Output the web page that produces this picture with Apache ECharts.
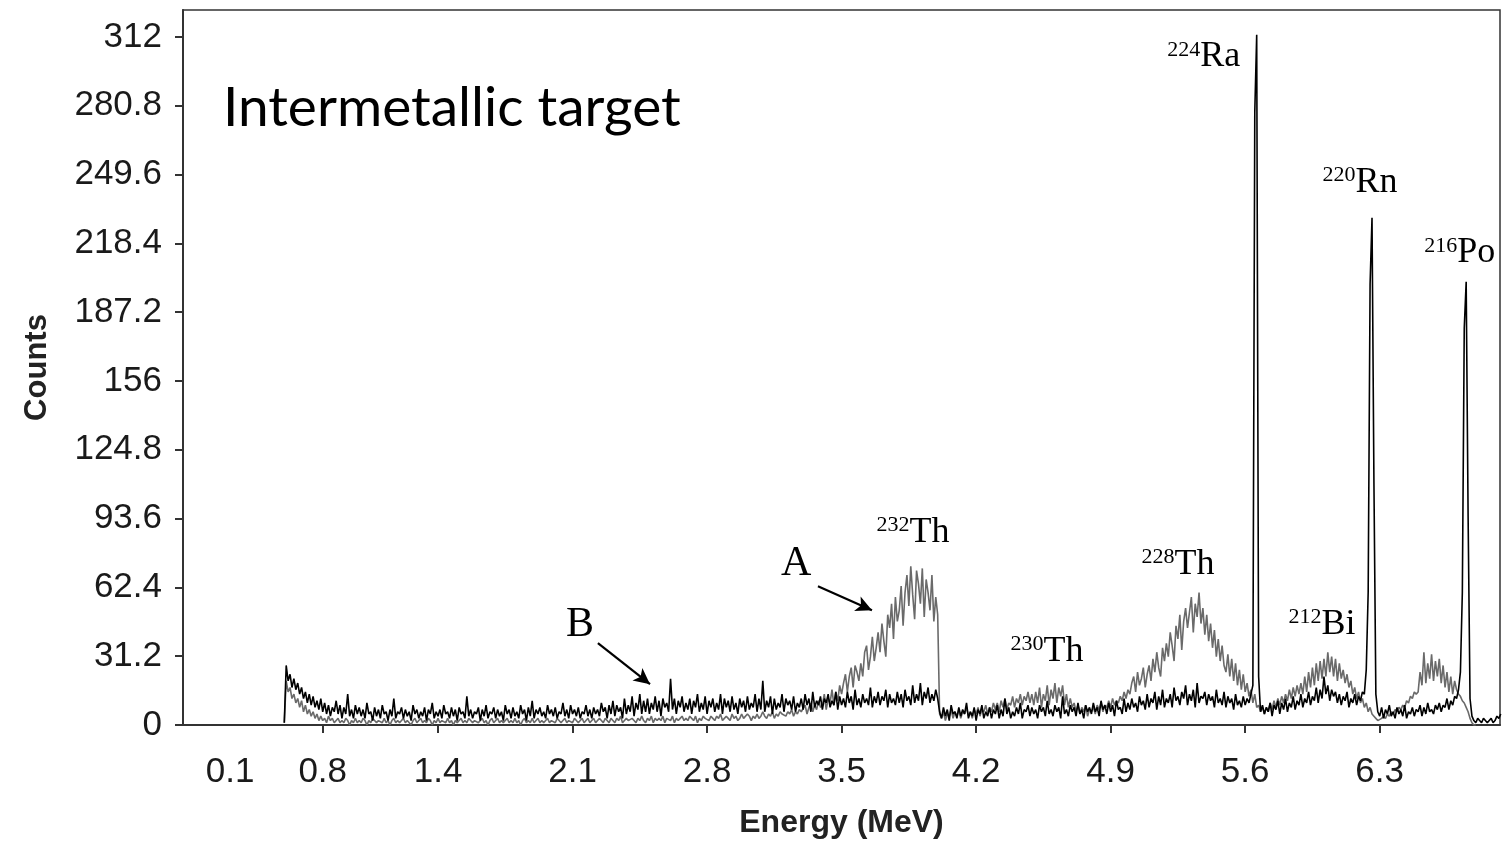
<!DOCTYPE html>
<html>
<head>
<meta charset="utf-8">
<script src="https://cdn.jsdelivr.net/npm/echarts@6/dist/echarts.min.js"></script>
<style>
  html, body { margin: 0; padding: 0; background: #fff; }
  #chart { width: 1511px; height: 844px; }
</style>
</head>
<body>
<div id="chart"></div>
<script>
// Alpha spectrum, intermetallic target: counts per 0.01 MeV channel
const ENERGY_START = 0.60;   // MeV of the first channel
const ENERGY_STEP = 0.01;    // MeV per channel

// Black trace
const countsBlack = [
  1, 27, 20, 23, 17, 21, 16, 19, 14, 17,        // 0.60
  12, 15, 10, 14, 9, 13, 8, 11, 7, 12,          // 0.70
  6, 10, 5, 9, 4, 8, 6, 11, 5, 9,               // 0.80
  3, 8, 5, 14, 4, 7, 3, 9, 5, 8,                // 0.90
  4, 7, 3, 10, 5, 6, 2, 8, 4, 7,                // 1.00
  3, 9, 5, 6, 2, 7, 4, 12, 3, 6,                // 1.10
  5, 8, 3, 7, 4, 6, 2, 9, 5, 7,                 // 1.20
  3, 6, 4, 8, 2, 7, 5, 10, 3, 6,                // 1.30
  4, 7, 3, 9, 5, 6, 3, 8, 4, 7,                 // 1.40
  2, 8, 5, 6, 3, 13, 4, 7, 3, 6,                // 1.50
  5, 8, 2, 7, 4, 9, 3, 6, 5, 8,                 // 1.60
  3, 7, 4, 6, 2, 9, 5, 7, 3, 8,                 // 1.70
  4, 6, 3, 9, 5, 7, 2, 8, 4, 11,                // 1.80
  3, 7, 5, 8, 4, 6, 3, 9, 5, 7,                 // 1.90
  4, 8, 3, 6, 5, 10, 4, 7, 3, 9,                // 2.00
  5, 7, 4, 8, 3, 6, 5, 9, 4, 7,                 // 2.10
  3, 8, 5, 7, 4, 10, 6, 8, 3, 9,                // 2.20
  5, 11, 4, 9, 6, 8, 3, 12, 5, 9,               // 2.30
  6, 13, 4, 10, 7, 14, 5, 11, 6, 12,            // 2.40
  5, 10, 7, 13, 6, 11, 4, 12, 8, 10,            // 2.50
  6, 21, 7, 12, 5, 11, 8, 13, 6, 10,            // 2.60
  7, 12, 5, 11, 8, 14, 6, 10, 7, 13,            // 2.70
  5, 11, 8, 12, 6, 10, 7, 14, 5, 12,            // 2.80
  8, 11, 6, 13, 7, 10, 5, 12, 8, 11,            // 2.90
  6, 13, 7, 10, 8, 14, 6, 12, 7, 20,            // 3.00
  6, 11, 8, 13, 5, 12, 7, 10, 8, 14,            // 3.10
  6, 12, 9, 11, 7, 13, 6, 10, 8, 12,            // 3.20
  7, 14, 9, 12, 6, 15, 8, 11, 9, 13,            // 3.30
  7, 12, 10, 14, 8, 11, 9, 15, 7, 13,           // 3.40
  9, 12, 8, 15, 10, 13, 7, 16, 9, 12,           // 3.50
  8, 14, 10, 12, 9, 17, 8, 13, 10, 15,          // 3.60
  9, 13, 11, 16, 8, 14, 10, 12, 9, 15,          // 3.70
  10, 14, 8, 16, 11, 13, 9, 18, 10, 14,         // 3.80
  11, 19, 9, 15, 12, 17, 10, 14, 11, 16,        // 3.90
  12, 6, 3, 8, 4, 7, 2, 9, 5, 6,                // 4.00
  3, 8, 4, 7, 5, 10, 3, 6, 4, 8,                // 4.10
  2, 7, 5, 9, 3, 6, 4, 8, 3, 7,                 // 4.20
  5, 9, 3, 7, 4, 12, 5, 8, 3, 6,                // 4.30
  4, 8, 5, 10, 3, 7, 6, 9, 4, 8,                // 4.40
  5, 7, 3, 9, 6, 8, 4, 11, 5, 7,                // 4.50
  4, 9, 6, 8, 3, 13, 5, 7, 4, 9,                // 4.60
  6, 8, 4, 10, 5, 7, 3, 9, 6, 8,                // 4.70
  5, 10, 6, 8, 4, 11, 7, 9, 5, 10,              // 4.80
  6, 9, 4, 11, 7, 8, 5, 12, 6, 10,              // 4.90
  7, 12, 8, 10, 6, 13, 9, 11, 7, 14,            // 5.00
  8, 12, 10, 15, 7, 13, 9, 16, 8, 12,           // 5.10
  10, 14, 8, 17, 11, 13, 9, 15, 12, 18,         // 5.20
  9, 14, 11, 16, 8, 19, 10, 13, 12, 15,         // 5.30
  9, 14, 11, 13, 8, 16, 10, 12, 9, 15,          // 5.40
  8, 13, 10, 12, 7, 14, 9, 11, 8, 13,           // 5.50
  9, 12, 10, 14, 18, 278, 313, 22, 6, 9,        // 5.60  224Ra
  5, 8, 6, 10, 4, 9, 7, 11, 5, 10,              // 5.70
  7, 12, 6, 10, 8, 13, 7, 11, 9, 14,            // 5.80
  8, 12, 10, 15, 9, 13, 11, 17, 10, 16,         // 5.90
  12, 22, 14, 18, 11, 16, 13, 15, 10, 14,       // 6.00
  9, 13, 11, 15, 8, 12, 10, 14, 9, 13,          // 6.10
  11, 15, 14, 25, 60, 200, 230, 110, 14, 6,     // 6.20  220Rn
  4, 8, 3, 7, 5, 9, 4, 6, 3, 8,                 // 6.30
  5, 7, 4, 9, 3, 6, 5, 8, 4, 7,                 // 6.40
  6, 9, 4, 8, 5, 10, 6, 7, 5, 9,                // 6.50
  7, 10, 6, 9, 8, 12, 7, 11, 9, 13,             // 6.60
  12, 16, 24, 60, 180, 201, 95, 12, 4, 2,       // 6.70  216Po
  1, 3, 2, 1, 3, 2, 1, 2, 3, 1,                 // 6.80
  2, 4, 3, 5                                    // 6.90
];

// Grey trace
const countsGrey = [
  1, 20, 15, 17, 12, 14, 10, 12, 8, 11,         // 0.60
  6, 9, 5, 7, 4, 6, 3, 5, 2, 4,                 // 0.70
  2, 3, 1, 4, 2, 3, 1, 2, 3, 1,                 // 0.80
  2, 1, 3, 2, 0, 2, 1, 3, 1, 2,                 // 0.90
  1, 3, 2, 0, 2, 1, 3, 2, 1, 2,                 // 1.00
  2, 1, 3, 1, 2, 0, 2, 3, 1, 2,                 // 1.10
  1, 2, 3, 1, 2, 1, 0, 2, 3, 1,                 // 1.20
  2, 3, 1, 2, 1, 3, 2, 0, 2, 1,                 // 1.30
  3, 1, 2, 2, 1, 3, 1, 2, 0, 2,                 // 1.40
  1, 2, 3, 1, 2, 1, 3, 2, 1, 2,                 // 1.50
  2, 1, 2, 3, 1, 2, 0, 2, 3, 1,                 // 1.60
  2, 3, 1, 2, 1, 2, 3, 1, 2, 1,                 // 1.70
  3, 1, 2, 0, 2, 3, 1, 2, 1, 3,                 // 1.80
  1, 2, 3, 1, 2, 1, 2, 3, 1, 2,                 // 1.90
  2, 1, 3, 2, 1, 2, 3, 1, 2, 2,                 // 2.00
  1, 3, 2, 1, 2, 3, 1, 2, 3, 1,                 // 2.10
  2, 3, 1, 2, 3, 2, 1, 3, 2, 1,                 // 2.20
  3, 2, 1, 3, 2, 4, 1, 2, 3, 2,                 // 2.30
  2, 3, 2, 1, 3, 2, 4, 2, 1, 3,                 // 2.40
  2, 4, 1, 3, 2, 3, 2, 4, 1, 3,                 // 2.50
  3, 2, 4, 1, 3, 2, 3, 4, 2, 3,                 // 2.60
  2, 4, 3, 2, 4, 1, 3, 2, 4, 3,                 // 2.70
  3, 2, 4, 3, 2, 4, 3, 5, 2, 3,                 // 2.80
  4, 3, 2, 5, 3, 4, 2, 3, 5, 3,                 // 2.90
  3, 5, 4, 2, 4, 3, 5, 3, 4, 6,                 // 3.00
  4, 3, 5, 4, 6, 3, 5, 4, 6, 5,                 // 3.10
  5, 4, 6, 5, 7, 4, 6, 5, 7, 6,                 // 3.20
  6, 9, 5, 8, 10, 6, 9, 7, 11, 8,               // 3.30
  9, 14, 7, 12, 10, 16, 9, 15, 11, 18,          // 3.40
  14, 19, 23, 15, 22, 26, 17, 27, 24, 20,       // 3.50
  28, 22, 33, 36, 25, 31, 40, 29, 35, 42,       // 3.60
  33, 46, 38, 31, 50, 44, 55, 39, 58, 47,       // 3.70
  52, 63, 45, 60, 68, 54, 72, 59, 48, 70,       // 3.80  232Th
  64, 55, 71, 49, 66, 60, 52, 68, 47, 58,       // 3.90
  50, 5, 3, 6, 2, 5, 4, 7, 3, 6,                // 4.00
  4, 7, 3, 6, 5, 8, 4, 6, 3, 7,                 // 4.10
  5, 8, 4, 7, 6, 9, 5, 8, 6, 10,                // 4.20
  7, 10, 6, 11, 8, 12, 7, 10, 9, 13,            // 4.30
  8, 12, 10, 14, 9, 13, 11, 15, 10, 14,         // 4.40
  9, 15, 10, 17, 8, 14, 11, 18, 9, 16,          // 4.50  230Th
  12, 19, 10, 17, 13, 18, 9, 14, 8, 12,         // 4.60
  8, 10, 6, 9, 5, 8, 6, 9, 4, 7,                // 4.70
  6, 8, 5, 9, 7, 10, 6, 9, 8, 11,               // 4.80
  8, 12, 9, 11, 10, 13, 11, 15, 12, 16,         // 4.90
  14, 19, 22, 15, 24, 18, 21, 26, 17, 23,       // 5.00
  27, 20, 30, 24, 33, 26, 22, 35, 29, 37,       // 5.10
  31, 42, 36, 29, 45, 39, 50, 34, 47, 53,       // 5.20
  44, 51, 58, 42, 55, 49, 60, 46, 53, 41,       // 5.30  228Th
  50, 38, 46, 35, 43, 31, 39, 29, 36, 27,       // 5.40
  24, 32, 22, 30, 20, 28, 18, 25, 16, 23,       // 5.50
  15, 19, 13, 16, 10, 14, 8, 9, 6, 8,           // 5.60
  5, 8, 6, 10, 7, 11, 8, 12, 9, 13,             // 5.70
  10, 14, 11, 16, 12, 17, 13, 18, 14, 19,       // 5.80
  14, 22, 15, 24, 17, 26, 18, 28, 20, 29,       // 5.90
  21, 30, 22, 33, 24, 31, 22, 30, 20, 28,       // 6.00  212Bi
  21, 25, 19, 23, 17, 20, 14, 17, 12, 15,       // 6.10
  10, 12, 8, 10, 6, 8, 5, 4, 3, 2,              // 6.20
  2, 3, 4, 3, 5, 4, 6, 5, 7, 6,                 // 6.30
  8, 7, 9, 8, 11, 10, 13, 12, 15, 14,           // 6.40
  15, 24, 18, 33, 19, 28, 21, 32, 20, 29,       // 6.50
  22, 30, 19, 27, 17, 24, 15, 22, 14, 20,       // 6.60
  16, 14, 13, 11, 10, 8, 6, 3, 1, 0,            // 6.70
  0                                             // 6.80
];

// Axis tick values
const xTickValues = [0.8, 1.4, 2.1, 2.8, 3.5, 4.2, 4.9, 5.6, 6.3];
const xLabelValues = [0.1, 0.8, 1.4, 2.1, 2.8, 3.5, 4.2, 4.9, 5.6, 6.3];
const yTickValues = [0, 31.2, 62.4, 93.6, 124.8, 156, 187.2, 218.4, 249.6, 280.8, 312];

// Peak labels: mass number, element, [energy, counts] of label centre
const peakLabels = [
  { mass: '224', el: 'Ra', at: [5.385, 303] },
  { mass: '220', el: 'Rn', at: [6.197, 246] },
  { mass: '216', el: 'Po', at: [6.717, 214] },
  { mass: '232', el: 'Th', at: [3.871, 87.3] },
  { mass: '228', el: 'Th', at: [5.250, 72.8] },
  { mass: '230', el: 'Th', at: [4.569, 33.5] },
  { mass: '212', el: 'Bi', at: [6.000, 45.7] }
];

// Arrow markers: letter position, arrow start, arrow end
const arrowNotes = [
  { text: 'A', at: [3.263, 72.8], from: [3.377, 62.9], to: [3.658, 52.0] },
  { text: 'B', at: [2.139, 45.2], from: [2.232, 37.1], to: [2.503, 18.5] }
];

function toPairs(counts) {
  return counts.map((c, i) => [+(ENERGY_START + i * ENERGY_STEP).toFixed(2), c]);
}

const chart = echarts.init(document.getElementById('chart'), null, { renderer: 'canvas' });
const SANS = '"Liberation Sans", Arial, sans-serif';
const SERIF = '"Liberation Serif", "Times New Roman", serif';

chart.setOption({
  animation: false,
  backgroundColor: '#fff',
  title: {
    text: 'Intermetallic target',
    left: 218,
    top: 76,
    textStyle: { fontFamily: 'Lato', fontSize: 55, fontWeight: 'normal', color: '#000' }
  },
  grid: {
    left: 183, right: 11, top: 10, bottom: 117,
    show: true, borderColor: '#333', borderWidth: 1.5, backgroundColor: 'transparent'
  },
  xAxis: {
    type: 'value',
    min: 0.073,
    max: 6.926,
    name: 'Energy (MeV)',
    nameLocation: 'middle',
    nameGap: 82,
    nameTextStyle: { fontFamily: SANS, fontSize: 32, fontWeight: 'bold', color: '#222' },
    axisLine: { show: true, lineStyle: { color: '#333', width: 2 } },
    axisTick: { show: true, length: 8, lineStyle: { color: '#333', width: 2 }, customValues: xTickValues },
    axisLabel: {
      customValues: xLabelValues,
      margin: 30,
      fontFamily: SANS, fontSize: 35, color: '#1a1a1a',
      formatter: v => (Math.abs(v - 0.1) < 1e-6 ? '{first|0.1}' : String(v)),
      rich: { first: { fontFamily: SANS, fontSize: 35, color: '#1a1a1a', padding: [0, 0, 0, 84] } }
    },
    splitLine: { show: false }
  },
  yAxis: {
    type: 'value',
    min: 0,
    max: 324.2,
    name: 'Counts',
    nameLocation: 'middle',
    nameGap: 130,
    nameTextStyle: { fontFamily: SANS, fontSize: 31, fontWeight: 'bold', color: '#222' },
    axisLine: { show: true, lineStyle: { color: '#333', width: 2 } },
    axisTick: { show: true, length: 8, lineStyle: { color: '#333', width: 2 }, customValues: yTickValues },
    axisLabel: {
      customValues: yTickValues,
      margin: 21,
      fontFamily: SANS, fontSize: 35, color: '#1a1a1a',
      formatter: v => String(v)
    },
    splitLine: { show: false }
  },
  series: [
    {
      name: 'grey',
      type: 'line',
      data: toPairs(countsGrey),
      showSymbol: false,
      symbol: 'none',
      lineStyle: { color: '#6a6a6a', width: 1.6 },
      z: 2
    },
    {
      name: 'black',
      type: 'line',
      data: toPairs(countsBlack),
      showSymbol: false,
      symbol: 'none',
      lineStyle: { color: '#000', width: 1.6 },
      z: 3,
      markLine: {
        silent: true,
        symbol: ['none', 'arrow'],
        symbolSize: [12, 16],
        label: { show: false },
        lineStyle: { color: '#000', width: 2.2, type: 'solid' },
        data: arrowNotes.map(a => [{ coord: a.from }, { coord: a.to }])
      }
    }
  ]
});

// Text annotations placed at their data coordinates
function placeNotes() {
  const elements = [];
  peakLabels.forEach(p => {
    const px = chart.convertToPixel({ gridIndex: 0 }, p.at);
    elements.push({
      type: 'text',
      x: px[0], y: px[1],
      z: 10,
      style: {
        text: '{sup|' + p.mass + '}{el|' + p.el + '}',
        align: 'center',
        verticalAlign: 'middle',
        rich: {
          sup: { fontFamily: SERIF, fontSize: 22, color: '#000', verticalAlign: 'top', lineHeight: 36 },
          el: { fontFamily: SERIF, fontSize: 36, color: '#000', verticalAlign: 'bottom', lineHeight: 36 }
        }
      }
    });
  });
  arrowNotes.forEach(a => {
    const px = chart.convertToPixel({ gridIndex: 0 }, a.at);
    elements.push({
      type: 'text',
      x: px[0], y: px[1],
      z: 10,
      style: {
        text: a.text,
        align: 'center',
        verticalAlign: 'middle',
        fontFamily: SERIF, fontSize: 42, fill: '#000'
      }
    });
  });
  chart.setOption({ graphic: { elements: elements } });
}
placeNotes();
</script>
</body>
</html>
